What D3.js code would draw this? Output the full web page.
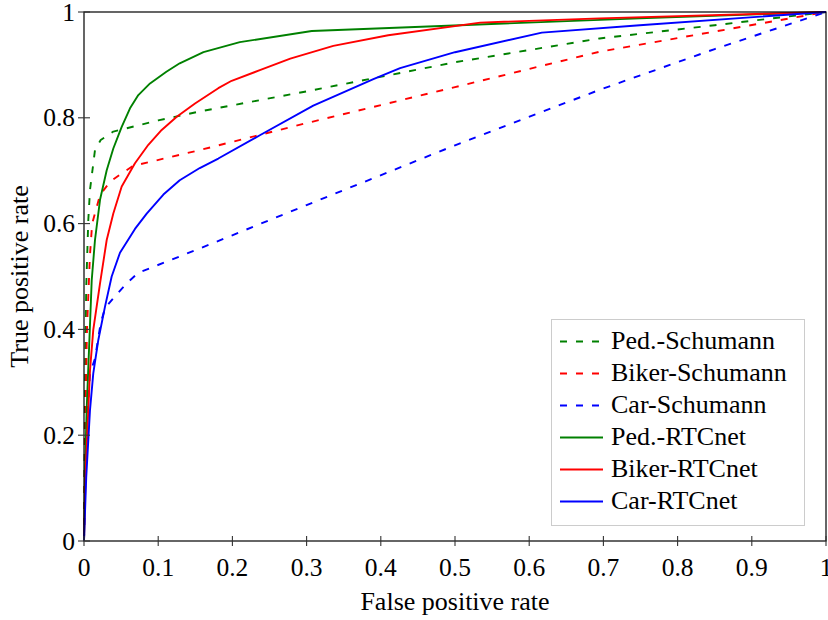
<!DOCTYPE html>
<html>
<head>
<meta charset="utf-8">
<script src="https://cdn.jsdelivr.net/npm/d3@7"></script>
</head>
<body style="margin:0">
<svg id="chart" width="828" height="620"></svg>
<script>
// ROC curves: [false positive rate, true positive rate]
const pedSchumann = [[0,0],[0.0015,0.3],[0.003,0.48],[0.0058,0.607],[0.0081,0.664],[0.0148,0.739],[0.0225,0.758],[0.0395,0.774],[0.1,0.795],[0.156,0.812],[0.3,0.85],[0.5,0.905],[0.695,0.95],[0.85,0.975],[1,1]];
const bikerSchumann = [[0,0],[0.0015,0.2],[0.004,0.4],[0.008,0.54],[0.011,0.6],[0.0216,0.654],[0.035,0.679],[0.051,0.695],[0.066,0.709],[0.156,0.739],[0.3,0.79],[0.5,0.858],[0.695,0.925],[0.85,0.963],[1,1]];
const carSchumann = [[0,0],[0.003,0.2],[0.0081,0.317],[0.0148,0.345],[0.0225,0.412],[0.0283,0.44],[0.0395,0.459],[0.0575,0.487],[0.0732,0.507],[0.156,0.553],[0.3,0.635],[0.5,0.748],[0.695,0.853],[0.85,0.93],[1,1]];
const pedRTCnet = [[0,0],[0.0015,0.14],[0.0036,0.248],[0.0104,0.493],[0.0148,0.569],[0.0216,0.645],[0.0306,0.701],[0.0395,0.742],[0.0508,0.783],[0.062,0.818],[0.0732,0.843],[0.089,0.865],[0.111,0.887],[0.129,0.903],[0.161,0.924],[0.21,0.943],[0.307,0.964],[0.507,0.975],[0.749,0.988],[1,1]];
const bikerRTCnet = [[0,0],[0.002,0.12],[0.004,0.19],[0.0058,0.248],[0.0081,0.323],[0.0125,0.399],[0.0216,0.487],[0.0306,0.569],[0.0395,0.619],[0.0508,0.67],[0.0687,0.714],[0.0867,0.749],[0.1047,0.777],[0.125,0.802],[0.1496,0.827],[0.181,0.856],[0.199,0.87],[0.237,0.89],[0.278,0.912],[0.336,0.936],[0.41,0.956],[0.534,0.98],[0.695,0.988],[1,1]];
const carRTCnet = [[0,0],[0.003,0.12],[0.0081,0.248],[0.0125,0.317],[0.0193,0.38],[0.0283,0.443],[0.0373,0.5],[0.0485,0.545],[0.0687,0.59],[0.0845,0.619],[0.107,0.655],[0.129,0.682],[0.156,0.705],[0.181,0.723],[0.237,0.767],[0.309,0.823],[0.39,0.873],[0.426,0.894],[0.5,0.924],[0.617,0.961],[0.749,0.975],[1,1]];

const seriesNames = ["Ped.-Schumann","Biker-Schumann","Car-Schumann","Ped.-RTCnet","Biker-RTCnet","Car-RTCnet"];
const seriesData = [pedSchumann, bikerSchumann, carSchumann, pedRTCnet, bikerRTCnet, carRTCnet];
const seriesColors = ["#008000","#ff0000","#0000ff","#008000","#ff0000","#0000ff"];
const seriesDashed = [true, true, true, false, false, false];

const xTicks = [0,0.1,0.2,0.3,0.4,0.5,0.6,0.7,0.8,0.9,1];
const yTicks = [0,0.2,0.4,0.6,0.8,1];
const xTitle = "False positive rate";
const yTitle = "True positive rate";

const svg = d3.select("#chart");
const x = d3.scaleLinear().domain([0,1]).range([84,826]);
const y = d3.scaleLinear().domain([0,1]).range([541,12]);
const fmt = d => d === 0 ? "0" : d === 1 ? "1" : d3.format(".1f")(d);
const dash = "7,9";
const lw = 1.9;

// all labels use a Times-like serif face
function label(parent, str, size) {
  return parent.append("text")
    .style("font-family", "'Liberation Serif'")
    .style("font-size", size + "px")
    .attr("fill", "#000")
    .text(str);
}

// curves
const line = d3.line().x(d => x(d[0])).y(d => y(d[1]));
const curves = svg.append("g");
seriesData.forEach((data, i) => {
  curves.append("path")
    .attr("d", line(data))
    .attr("fill", "none")
    .attr("stroke", seriesColors[i])
    .attr("stroke-width", lw)
    .attr("stroke-linejoin", "round")
    .attr("stroke-dasharray", seriesDashed[i] ? dash : null);
});

// frame
svg.append("rect")
  .attr("x", x(0)).attr("y", y(1))
  .attr("width", x(1) - x(0)).attr("height", y(0) - y(1))
  .attr("fill", "none").attr("stroke", "#000").attr("stroke-width", 1.2);

// tick marks (crossing the axis lines), drawn from the scales
const ticks = svg.append("g").attr("stroke", "#333").attr("stroke-width", 1.1);
xTicks.forEach(t => {
  ticks.append("line").attr("x1", x(t)).attr("x2", x(t)).attr("y1", y(0) - 5).attr("y2", y(0) + 5);
  label(svg, fmt(t), 25.5).attr("x", x(t)).attr("y", y(0) + 35).attr("text-anchor", "middle");
});
yTicks.forEach(t => {
  ticks.append("line").attr("y1", y(t)).attr("y2", y(t)).attr("x1", x(0) - 6).attr("x2", x(0) + 6);
  label(svg, fmt(t), 25.5).attr("x", x(0) - 9).attr("y", y(t) + 8.5).attr("text-anchor", "end");
});

// axis titles
label(svg, xTitle, 26)
  .attr("x", (x(0) + x(1)) / 2).attr("y", 610)
  .attr("text-anchor", "middle");
label(svg, yTitle, 26)
  .attr("transform", `translate(28,${(y(0) + y(1)) / 2}) rotate(-90)`)
  .attr("text-anchor", "middle");

// legend
const legend = svg.append("g");
legend.append("rect")
  .attr("x", 551.5).attr("y", 319.5).attr("width", 253).attr("height", 206)
  .attr("fill", "#fff").attr("stroke", "#ccc").attr("stroke-width", 1);
seriesNames.forEach((name, i) => {
  const ry = 341.5 + i * 32;
  legend.append("line")
    .attr("x1", 560).attr("x2", 603).attr("y1", ry).attr("y2", ry)
    .attr("stroke", seriesColors[i]).attr("stroke-width", lw)
    .attr("stroke-dasharray", seriesDashed[i] ? dash : null);
  label(legend, name, 26).attr("x", 611).attr("y", ry + 7.5);
});
</script>
</body>
</html>
